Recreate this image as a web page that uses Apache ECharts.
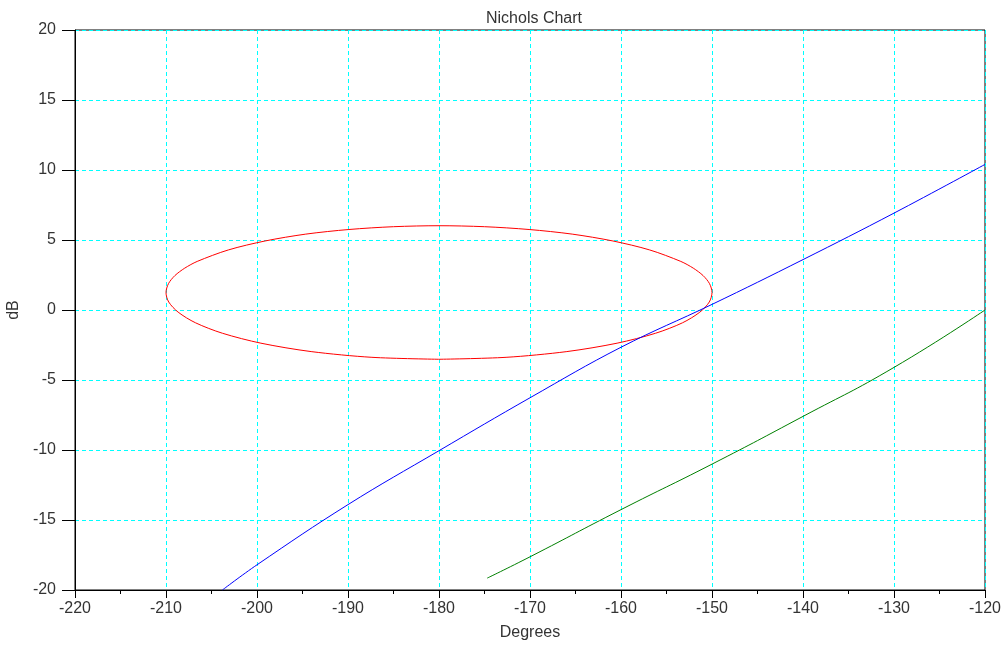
<!DOCTYPE html>
<html>
<head>
<meta charset="utf-8">
<script src="https://cdn.jsdelivr.net/npm/echarts@6/dist/echarts.min.js"></script>
<style>html,body{margin:0;padding:0;background:#fff;}#c{width:1001px;height:645px;}</style>
</head>
<body>
<div id="c"></div>
<script>
// Axis ranges (degrees, dB)
const xRange = [-220, -120];
const yRange = [-20, 20];

// Red closed curve (M-circle), [phase deg, gain dB]
const mCircle = [
  [-180.00, -3.52], [-187.37, -3.38], [-194.05, -2.97], [-199.57, -2.37],
  [-203.80, -1.66], [-206.77, -0.91], [-208.67, -0.15], [-209.70, 0.57],
  [-210.00, 1.25], [-209.73, 1.88], [-209.02, 2.46], [-207.94, 2.99],
  [-206.57, 3.47], [-203.15, 4.29], [-199.11, 4.93], [-194.64, 5.42],
  [-189.90, 5.75], [-184.99, 5.95], [-180.00, 6.02],
  [-175.01, 5.95], [-170.10, 5.75], [-165.36, 5.42], [-160.89, 4.93],
  [-156.85, 4.29], [-153.43, 3.47], [-152.06, 2.99], [-150.98, 2.46],
  [-150.27, 1.88], [-150.00, 1.25], [-150.30, 0.57], [-151.33, -0.15],
  [-153.23, -0.91], [-156.20, -1.66], [-160.43, -2.37], [-165.95, -2.97],
  [-172.63, -3.38], [-180.00, -3.52]
];

// Blue open-loop response
const bluePath = [
  [-203.8, -20.0], [-200, -18.2], [-190, -13.9], [-180, -10.05],
  [-170, -6.27], [-160, -2.66], [-150, 0.40], [-140, 3.6],
  [-130, 6.92], [-120, 10.4]
];

// Green response
const greenPath = [
  [-174.7, -19.15], [-170, -17.63], [-160, -14.26], [-150, -11.01],
  [-140, -7.6], [-130, -4.1], [-120, 0.0]
];

const chart = echarts.init(document.getElementById('c'), null, {renderer: 'canvas'});
const font = 'Liberation Sans, Arial, sans-serif';
function gridLine() {
  return {show: true, lineStyle: {color: '#00ffff', type: [4, 3], width: 1, opacity: 1}};
}

chart.setOption({
  animation: false,
  backgroundColor: '#fff',
  title: {
    text: 'Nichols Chart', left: 529, top: 6, textAlign: 'center',
    textStyle: {fontFamily: font, fontSize: 16, fontWeight: 'normal', color: '#333'}
  },
  grid: {left: 75, right: 16, top: 30, bottom: 55, show: true, borderColor: '#000', borderWidth: 1,
         containLabel: false, outerBoundsMode: 'none'},
  xAxis: {
    type: 'value', min: xRange[0], max: xRange[1], interval: 10,
    name: 'Degrees', nameLocation: 'middle', nameGap: 35,
    nameTextStyle: {fontFamily: font, fontSize: 16, color: '#333'},
    axisLine: {show: true, onZero: false, lineStyle: {color: '#000', width: 1}},
    axisTick: {show: true, inside: false, length: 8, lineStyle: {color: '#000'}},
    minorTick: {show: true, splitNumber: 2, length: 4, lineStyle: {color: '#000'}},
    axisLabel: {fontFamily: font, fontSize: 16, color: '#333', margin: 11},
    splitLine: gridLine(),
    minorSplitLine: {show: false},
    splitArea: {show: false}
  },
  yAxis: {
    type: 'value', min: yRange[0], max: yRange[1], interval: 5,
    name: 'dB', nameLocation: 'middle', nameGap: 48, nameRotate: 90,
    nameTextStyle: {fontFamily: font, fontSize: 16, color: '#333'},
    axisLine: {show: true, onZero: false, lineStyle: {color: '#000', width: 1}},
    axisTick: {show: true, inside: false, length: 13, lineStyle: {color: '#000'}},
    minorTick: {show: false},
    axisLabel: {fontFamily: font, fontSize: 16, color: '#333', margin: 19},
    splitLine: gridLine(),
    minorSplitLine: {show: false},
    splitArea: {show: false}
  },
  series: [
    {type: 'line', data: mCircle, smooth: 0.3, showSymbol: false, lineStyle: {color: '#ff0000', width: 1}, z: 3},
    {type: 'line', data: bluePath, smooth: 0.4, showSymbol: false, lineStyle: {color: '#0000ff', width: 1}, z: 4},
    {type: 'line', data: greenPath, smooth: 0.5, showSymbol: false, lineStyle: {color: '#008000', width: 1}, z: 4}
  ]
});
</script>
</body>
</html>
